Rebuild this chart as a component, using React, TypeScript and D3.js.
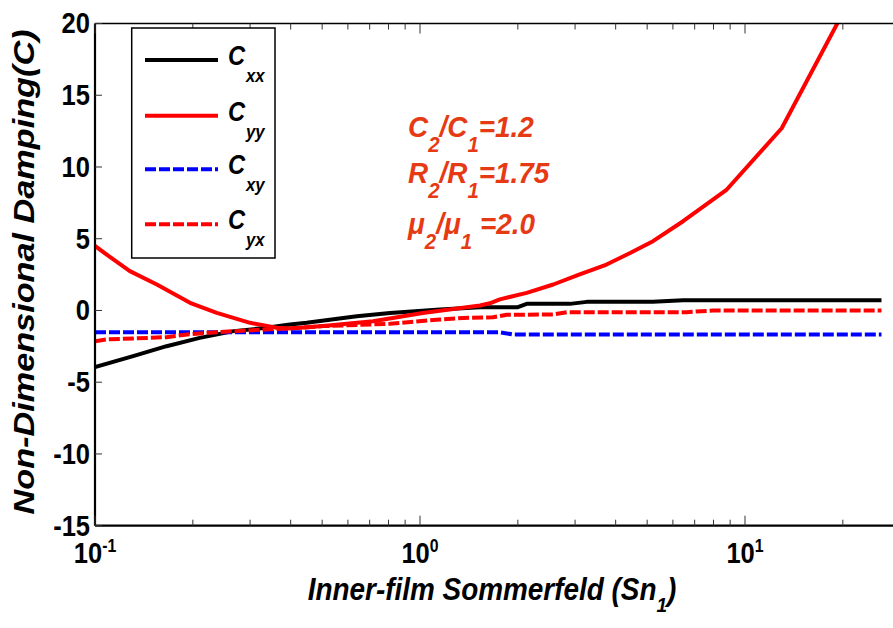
import React from "react";
import * as d3 from "d3";

const snCxx = [0.1, 0.131, 0.166, 0.21, 0.267, 0.337, 0.398, 0.448, 0.639, 0.809, 1.152, 1.53, 2.0, 2.13, 2.89, 3.26, 5.21, 6.45, 26.3];
const cxx = [-3.95, -3.18, -2.49, -1.91, -1.44, -1.21, -0.98, -0.86, -0.4, -0.17, 0.07, 0.23, 0.23, 0.46, 0.46, 0.6, 0.6, 0.72, 0.72];

const snCyy = [0.1, 0.11, 0.128, 0.155, 0.196, 0.237, 0.3, 0.362, 0.398, 0.503, 0.717, 1.02, 1.53, 1.64, 1.76, 2.13, 2.57, 3.1, 3.75, 4.43, 5.21, 6.45, 8.79, 12.97, 26.3];
const cyy = [4.5, 3.8, 2.74, 1.81, 0.53, -0.17, -0.86, -1.21, -1.25, -1.09, -0.75, -0.17, 0.35, 0.5, 0.77, 1.23, 1.81, 2.51, 3.2, 4.0, 4.83, 6.22, 8.43, 12.7, 25.8];

const snCxy = [0.1, 1.76, 1.93, 26.3];
const cxy = [-1.52, -1.52, -1.67, -1.67];

const snCyx = [0.1, 0.1086, 0.131, 0.166, 0.192, 0.237, 0.337, 0.428, 0.503, 0.809, 1.152, 1.357, 1.677, 1.85, 2.57, 2.83, 6.61, 7.97, 26.3];
const cyx = [-2.14, -2.02, -1.95, -1.86, -1.67, -1.51, -1.32, -1.21, -1.09, -0.93, -0.63, -0.52, -0.47, -0.3, -0.28, -0.12, -0.12, 0, 0];

const yTickValues = [-15, -10, -5, 0, 5, 10, 15, 20];
const xMajorExp = ["-1", "0", "1"];
const legendSubs = ["xx", "yy", "xy", "yx"];
const annotations = [
  { a: "C", s1: "2", b: "/C", s2: "1", c: "=1.2" },
  { a: "R", s1: "2", b: "/R", s2: "1", c: "=1.75" },
  { a: "\u03bc", s1: "2", b: "/\u03bc", s2: "1", c: " =2.0" },
];

const W = 893, H = 628;
const left = 95, top = 23.5, bottom = 525.7;
const FONT = "'Liberation Sans', Arial, sans-serif";
const SX = 0.88;

export default function App() {
  const x = d3.scaleLog().domain([0.1, 30]).range([left, left + 325 * Math.log10(300)]);
  const y = d3.scaleLinear().domain([-15, 20]).range([bottom, top]);
  const line = d3
    .line<[number, number]>()
    .x((d) => x(d[0]))
    .y((d) => y(d[1]));
  const zip = (a: number[], b: number[]) => a.map((v, i) => [v, b[i]] as [number, number]);

  const series = [
    { d: zip(snCxx, cxx), color: "#000000", dash: null },
    { d: zip(snCyy, cyy), color: "#ff0000", dash: null },
    { d: zip(snCxy, cxy), color: "#0000ff", dash: "11,3" },
    { d: zip(snCyx, cyx), color: "#ff0000", dash: "11,3" },
  ];

  const xTicks = x.ticks().filter((t) => t <= 30);
  const isMajor = (t: number) => Math.abs(Math.log10(t) - Math.round(Math.log10(t))) < 1e-6;
  const majors = xTicks.filter(isMajor);

  const legY = [60, 115.7, 169.3, 224.3];
  const annoY = [137, 183, 234];
  const annoColor = "#e63a14";

  return (
    <svg width={W} height={H} style={{ position: "absolute", left: 0, top: 0, background: "#fff" }} fontFamily={FONT}>
      <defs>
        <clipPath id="plot">
          <rect x={left} y={top} width={W - left} height={bottom - top} />
        </clipPath>
      </defs>
      <rect width={W} height={H} fill="#fff" />

      {/* data lines */}
      <g clipPath="url(#plot)">
        {series.map((s, i) => (
          <path
            key={i}
            d={line(s.d) || ""}
            fill="none"
            stroke={s.color}
            strokeWidth={4}
            strokeDasharray={s.dash || undefined}
            strokeLinejoin="round"
          />
        ))}
      </g>

      {/* axes lines */}
      <line x1={left} x2={W} y1={bottom} y2={bottom} stroke="#000" strokeWidth={2.2} />
      <line x1={left} x2={W} y1={top} y2={top} stroke="#000" strokeWidth={1.5} />
      <line x1={left} x2={left} y1={top} y2={bottom} stroke="#000" strokeWidth={2.2} />

      {/* x ticks */}
      {xTicks.map((t, i) => {
        const len = isMajor(t) ? 10 : 6;
        return (
          <g key={i}>
            <line x1={x(t)} x2={x(t)} y1={bottom} y2={bottom - len} stroke="#333" strokeWidth={1} />
            <line x1={x(t)} x2={x(t)} y1={top} y2={top + len} stroke="#333" strokeWidth={1} />
          </g>
        );
      })}
      {/* y ticks */}
      {yTickValues.map((v, i) => (
        <line key={i} x1={left} x2={left + 7} y1={y(v)} y2={y(v)} stroke="#333" strokeWidth={1} />
      ))}

      {/* y tick labels */}
      {yTickValues.map((v, i) => (
        <text
          key={i}
          transform={`translate(90,${y(v)}) scale(${SX},1)`}
          textAnchor="end"
          dy="0.34em"
          fontSize={29}
          fontWeight="bold"
        >
          {v}
        </text>
      ))}

      {/* x tick labels */}
      {majors.map((t, i) => (
        <text
          key={i}
          transform={`translate(${x(t)},563) scale(${SX},1)`}
          textAnchor="middle"
          fontSize={29}
          fontWeight="bold"
        >
          10
          <tspan fontSize={18} dy={-11}>
            {xMajorExp[i]}
          </tspan>
        </text>
      ))}

      {/* x axis label */}
      <text
        transform={`translate(492,600) scale(0.9,1)`}
        textAnchor="middle"
        fontSize={31}
        fontWeight="bold"
        fontStyle="italic"
      >
        Inner-film Sommerfeld  (Sn
        <tspan fontSize={21} dy={12}>1</tspan>
        <tspan dy={-12}>)</tspan>
      </text>

      {/* y axis label */}
      <text
        transform="translate(34,272) rotate(-90)"
        textAnchor="middle"
        fontSize={29}
        fontWeight="bold"
        fontStyle="italic"
        textLength={485}
        lengthAdjust="spacingAndGlyphs"
      >
        Non-Dimensional Damping(C)
      </text>

      {/* legend */}
      <rect x={131.7} y={28} width={143.3} height={230} fill="#fff" stroke="#000" strokeWidth={1.5} />
      {series.map((s, i) => (
        <g key={i}>
          <line
            x1={145}
            x2={218}
            y1={legY[i]}
            y2={legY[i]}
            stroke={s.color}
            strokeWidth={4}
            strokeDasharray={s.dash || undefined}
          />
          <text
            transform={`translate(228,${legY[i] + 5}) scale(${SX},1)`}
            fontSize={27}
            fontWeight="bold"
            fontStyle="italic"
          >
            C
          </text>
          <text
            transform={`translate(246,${legY[i] + 22}) scale(${SX},1)`}
            fontSize={19}
            fontWeight="bold"
            fontStyle="italic"
          >
            {legendSubs[i]}
          </text>
        </g>
      ))}

      {/* annotation */}
      {annotations.map((a, i) => (
        <text
          key={i}
          transform={`translate(408,${annoY[i]}) scale(0.93,1)`}
          fontSize={30}
          fontWeight="bold"
          fontStyle="italic"
          fill={annoColor}
        >
          {a.a}
          <tspan fontSize={22} dy={15}>{a.s1}</tspan>
          <tspan dy={-15}>{a.b}</tspan>
          <tspan fontSize={22} dy={15}>{a.s2}</tspan>
          <tspan dy={-15}>{a.c}</tspan>
        </text>
      ))}
    </svg>
  );
}
